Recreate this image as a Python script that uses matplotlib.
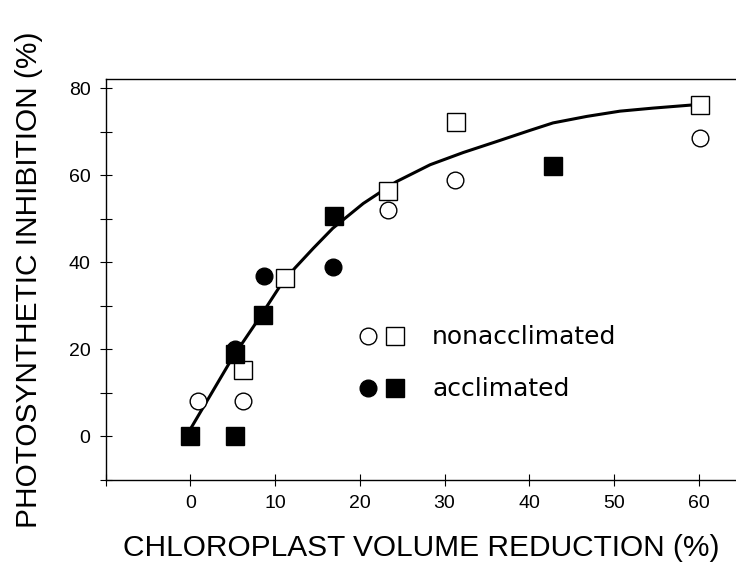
import matplotlib
matplotlib.use("Agg")
import matplotlib.pyplot as plt
from matplotlib.legend_handler import HandlerTuple

# ---- data ----
non_circle_x = [0.9, 6.2, 23.3, 31.2, 60.2]
non_circle_y = [8.2, 8.2, 52.0, 58.9, 68.5]
non_square_x = [6.2, 11.2, 23.3, 31.3, 60.2]
non_square_y = [15.3, 36.5, 56.4, 72.3, 76.0]
acc_circle_x = [5.3, 8.7, 16.8]
acc_circle_y = [20.1, 36.9, 38.9]
acc_square_x = [0.0, 5.3, 5.3, 8.6, 16.9, 42.8]
acc_square_y = [0.0, 0.0, 19.0, 27.8, 50.7, 62.1]

curve_x = [0.0, 5.0, 8.2, 10.5, 12.3, 14.5, 16.8, 20.4, 24.3, 28.3, 32.2,
           36.1, 40.1, 42.8, 46.8, 50.7, 54.6, 59.1, 60.2]
curve_y = [1.7, 18.2, 27.4, 34.3, 38.6, 43.2, 47.8, 53.5, 58.5, 62.4, 65.2,
           67.7, 70.3, 72.0, 73.5, 74.7, 75.4, 76.1, 76.3]

x_ticks = [-10, 0, 10, 20, 30, 40, 50, 60]
x_ticklabels = ["", "0", "10", "20", "30", "40", "50", "60"]
y_ticks = [-10, 0, 10, 20, 30, 40, 50, 60, 70, 80]
y_ticklabels = ["", "0", "", "20", "", "40", "", "60", "", "80"]

xlabel = "CHLOROPLAST VOLUME REDUCTION (%)"
ylabel = "PHOTOSYNTHETIC INHIBITION (%)"
legend_labels = ["nonacclimated", "acclimated"]

# ---- figure ----
W, H = 736, 572
fig = plt.figure(figsize=(W / 100, H / 100), dpi=100)
ax_left, ax_right, ax_top, ax_bottom = 105.7, 736.0, 78.5, 480.0
ax = fig.add_axes([ax_left / W, 1 - ax_bottom / H,
                   (ax_right - ax_left) / W, (ax_bottom - ax_top) / H])

ax.set_xlim(-10, 64.4)
ax.set_ylim(-10, 82.2)

ax.plot(curve_x, curve_y, color="black", lw=2.2, solid_capstyle="butt",
        solid_joinstyle="round", zorder=2)

ms = 12.5
mew = 1.0
h1, = ax.plot(non_circle_x, non_circle_y, "o", ms=ms - 0.5, mfc="white",
              mec="black", mew=mew, zorder=3, ls="none")
h2, = ax.plot(non_square_x, non_square_y, "s", ms=ms, mfc="white",
              mec="black", mew=mew, zorder=3, ls="none")
h3, = ax.plot(acc_circle_x, acc_circle_y, "o", ms=ms - 0.5, mfc="black",
              mec="black", mew=mew, zorder=4, ls="none")
h4, = ax.plot(acc_square_x, acc_square_y, "s", ms=ms, mfc="black",
              mec="black", mew=mew, zorder=4, ls="none")

# spines / ticks
ax.spines["right"].set_visible(False)
for s in ("left", "bottom", "top"):
    ax.spines[s].set_linewidth(1.0)
ax.set_xticks(x_ticks)
ax.set_xticklabels(x_ticklabels)
ax.set_yticks(y_ticks)
ax.set_yticklabels(y_ticklabels)
ax.tick_params(axis="both", direction="inout", length=8, width=0.8,
               labelsize=14, top=False, right=False)
ax.tick_params(axis="x", pad=7)
ax.tick_params(axis="y", pad=7)
for lab in ax.get_xticklabels() + ax.get_yticklabels():
    lab.set_family("Liberation Sans")

ax.set_xlabel(xlabel, fontsize=21.5, family="Liberation Sans", va="center")
ax.xaxis.set_label_coords(0.5, (ax_bottom - 548) / (ax_bottom - ax_top))
ax.set_ylabel(ylabel, fontsize=21.5, family="Liberation Sans", va="center")
ax.yaxis.set_label_coords((29 - ax_left) / (ax_right - ax_left), 0.5)

leg = ax.legend([(h1, h2), (h3, h4)], legend_labels,
                handler_map={tuple: HandlerTuple(ndivide=None, pad=0)},
                loc="center left",
                bbox_to_anchor=((354.5 - ax_left) / (ax_right - ax_left),
                                (ax_bottom - 363.5) / (ax_bottom - ax_top)),
                frameon=False, borderpad=0, borderaxespad=0,
                handlelength=2.16, handletextpad=0.94, labelspacing=1.12,
                prop={"family": "DejaVu Sans", "size": 18})

fig.savefig("out.png", dpi=100)
